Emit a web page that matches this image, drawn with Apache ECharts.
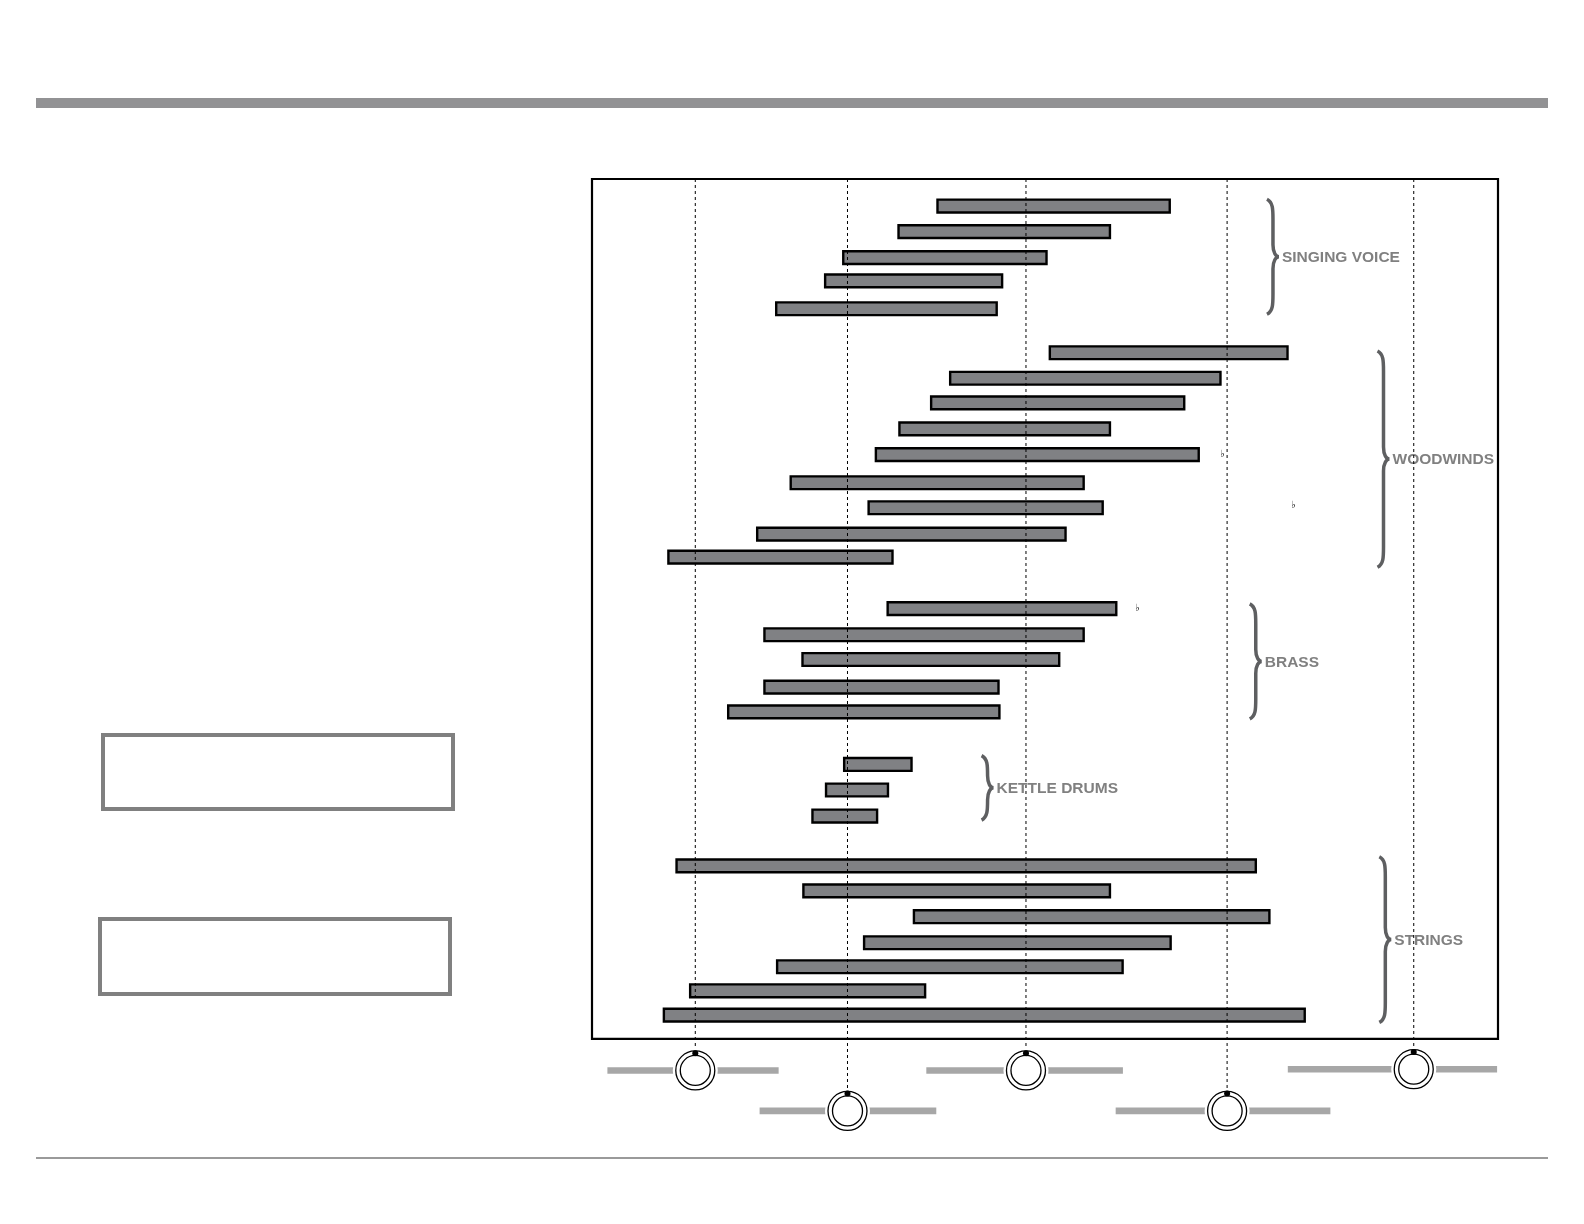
<!DOCTYPE html>
<html>
<head>
<meta charset="utf-8">
<script src="https://cdn.jsdelivr.net/npm/echarts@6/dist/echarts.min.js"></script>
<style>
  html, body { margin: 0; padding: 0; background: #fff; }
  #chart { width: 1584px; height: 1224px; }
</style>
</head>
<body>
<div id="chart"></div>
<script>
  // horizontal position scale runs 0..100 across the framed box
  const barStart = [38.0, 33.7, 27.6, 25.6, 20.2,
    50.4, 39.4, 37.3, 33.8, 31.2, 21.8, 30.4, 18.1, 8.3,
    32.5, 18.9, 23.1, 18.9, 14.9,
    27.7, 25.7, 24.2,
    9.2, 23.2, 35.4, 29.9, 20.3, 10.7, 7.8];
  const barEnd = [63.9, 57.3, 50.3, 45.4, 44.8,
    76.9, 69.5, 65.5, 57.3, 67.1, 54.4, 56.5, 52.4, 33.3,
    58.0, 54.4, 51.7, 45.0, 45.1,
    35.4, 32.8, 31.6,
    73.4, 57.3, 74.9, 64.0, 58.7, 36.9, 78.8];
  // vertical row position of each bar (frame spans rows 0..34)
  const barRow = [1.07, 2.08, 3.11, 4.03, 5.13,
    6.87, 7.88, 8.85, 9.88, 10.9, 12.01, 13.0, 14.04, 14.95,
    16.99, 18.02, 19.0, 20.09, 21.07,
    23.15, 24.16, 25.19,
    27.16, 28.15, 29.17, 30.2, 31.15, 32.1, 33.06];

  const groupNames = ['SINGING VOICE', 'WOODWINDS', 'BRASS', 'KETTLE DRUMS', 'STRINGS'];
  const groupFirstRow = [1, 7, 17, 23, 27];
  const groupLastRow = [5, 15, 21, 25, 33];
  const groupBraceX = [74.5, 86.7, 72.6, 43.0, 86.9];

  const knobX = [11.4, 28.2, 47.9, 70.1, 90.7];
  const knobLevel = [35.25, 36.85, 35.25, 36.85, 35.2];
  const sliderFrom = [1.7, 18.5, 36.9, 57.8, 76.8];
  const sliderTo = [20.6, 38.0, 58.6, 81.5, 99.9];

  const frameRows = 34;

  let myChart = echarts.init(document.getElementById('chart'));

  const bars = barStart.map((s, i) => [s, barEnd[i], barRow[i]]);
  const knobs = knobX.map((x, i) => [x, knobLevel[i], sliderFrom[i], sliderTo[i]]);
  const braces = groupNames.map((n, i) => [groupBraceX[i], groupFirstRow[i], groupLastRow[i]]);

  function renderFrame(params, api) {
    const a = api.coord([api.value(0), api.value(1)]);
    const b = api.coord([api.value(2), api.value(3)]);
    return {
      type: 'rect',
      shape: { x: a[0], y: a[1], width: b[0] - a[0], height: b[1] - a[1] },
      style: { fill: 'none', stroke: '#000', lineWidth: 2.2 }
    };
  }

  function renderBar(params, api) {
    const p0 = api.coord([api.value(0), api.value(2)]);
    const p1 = api.coord([api.value(1), api.value(2)]);
    const h = api.size([0, 1])[1] * 0.6;
    return {
      type: 'rect',
      shape: { x: p0[0] + 1.2, y: p0[1] - h / 2 + 1.2, width: p1[0] - p0[0] - 2.4, height: h - 2.4 },
      style: { fill: '#808184', stroke: '#000', lineWidth: 2.4 }
    };
  }

  function renderBrace(params, api) {
    const x0 = api.coord([api.value(0), 0])[0];
    const top = api.coord([0, api.value(1) - 0.2])[1];
    const bot = api.coord([0, api.value(2) + 0.35])[1];
    const mid = (top + bot) / 2;
    const bx = x0 + 6;
    const path = 'M' + x0 + ',' + top +
      ' C' + bx + ',' + (top + 3) + ' ' + bx + ',' + (top + 10) + ' ' + bx + ',' + (top + 20) +
      ' L' + bx + ',' + (mid - 12) +
      ' C' + bx + ',' + (mid - 4) + ' ' + (x0 + 9) + ',' + mid + ' ' + (x0 + 12) + ',' + mid +
      ' C' + (x0 + 9) + ',' + mid + ' ' + bx + ',' + (mid + 4) + ' ' + bx + ',' + (mid + 12) +
      ' L' + bx + ',' + (bot - 20) +
      ' C' + bx + ',' + (bot - 10) + ' ' + bx + ',' + (bot - 3) + ' ' + x0 + ',' + bot;
    return {
      type: 'group',
      children: [
        {
          type: 'path',
          shape: { pathData: path },
          style: { fill: 'none', stroke: '#5e5f61', lineWidth: 3.5 }
        },
        {
          type: 'text',
          x: x0 + 15,
          y: mid + 1,
          style: {
            text: groupNames[params.dataIndex],
            fill: '#808080',
            font: 'bold 15.5px "Liberation Sans", Arial, sans-serif',
            verticalAlign: 'middle'
          }
        }
      ]
    };
  }

  function renderDash(params, api) {
    const top = api.coord([api.value(0), 0]);
    const c = api.coord([api.value(0), api.value(1)]);
    return {
      type: 'line',
      shape: { x1: top[0], y1: top[1], x2: c[0], y2: c[1] - 18 },
      style: { stroke: '#000', lineWidth: 1, lineDash: [3, 3] }
    };
  }

  function renderSlider(params, api) {
    const a = api.coord([api.value(2), api.value(1)]);
    const b = api.coord([api.value(3), api.value(1)]);
    return {
      type: 'rect',
      shape: { x: a[0], y: a[1] - 3.3, width: b[0] - a[0], height: 6.6 },
      style: { fill: '#a7a7a7' }
    };
  }

  function renderKnob(params, api) {
    const c = api.coord([api.value(0), api.value(1)]);
    return {
      type: 'group',
      children: [
        { type: 'circle', shape: { cx: c[0], cy: c[1], r: 22.5 }, style: { fill: '#fff' } },
        { type: 'circle', shape: { cx: c[0], cy: c[1], r: 19.5 }, style: { fill: '#fff', stroke: '#000', lineWidth: 1.3 } },
        { type: 'circle', shape: { cx: c[0], cy: c[1], r: 15 }, style: { fill: 'none', stroke: '#000', lineWidth: 1.3 } },
        { type: 'circle', shape: { cx: c[0], cy: c[1] - 17.3, r: 3 }, style: { fill: '#000' } }
      ]
    };
  }

  let option = {
    animation: false,
    backgroundColor: '#fff',
    grid: { left: 592, top: 179, width: 906, height: 961 },
    xAxis: { type: 'value', min: 0, max: 100, show: false },
    yAxis: { type: 'value', min: 0, max: 38, inverse: true, show: false },
    graphic: [
      { type: 'rect', shape: { x: 36, y: 98, width: 1512, height: 10 }, style: { fill: '#929294' } },
      { type: 'rect', shape: { x: 36, y: 1157, width: 1512, height: 2 }, style: { fill: '#9a9a9a' } },
      { type: 'rect', shape: { x: 103, y: 735, width: 350, height: 74 }, style: { fill: 'none', stroke: '#808080', lineWidth: 4 } },
      { type: 'rect', shape: { x: 100, y: 919, width: 350, height: 75 }, style: { fill: 'none', stroke: '#808080', lineWidth: 4 } },
      { type: 'text', x: 1220, y: 449, style: { text: '\u266d', fill: '#000', font: 'bold 10px "DejaVu Sans"' } },
      { type: 'text', x: 1291, y: 500, style: { text: '\u266d', fill: '#000', font: 'bold 10px "DejaVu Sans"' } },
      { type: 'text', x: 1135, y: 603, style: { text: '\u266d', fill: '#000', font: 'bold 10px "DejaVu Sans"' } }
    ],
    series: [
      { type: 'custom', z: 1, data: [[0, 0, 100, frameRows]], renderItem: renderFrame, silent: true },
      { type: 'custom', z: 2, data: bars, renderItem: renderBar, silent: true },
      { type: 'custom', z: 2, data: braces, renderItem: renderBrace, silent: true },
      { type: 'custom', z: 3, data: knobs, renderItem: renderSlider, silent: true },
      { type: 'custom', z: 4, data: knobs, renderItem: renderDash, silent: true },
      { type: 'custom', z: 5, data: knobs, renderItem: renderKnob, silent: true }
    ]
  };
  myChart.setOption(option);
</script>
</body>
</html>
